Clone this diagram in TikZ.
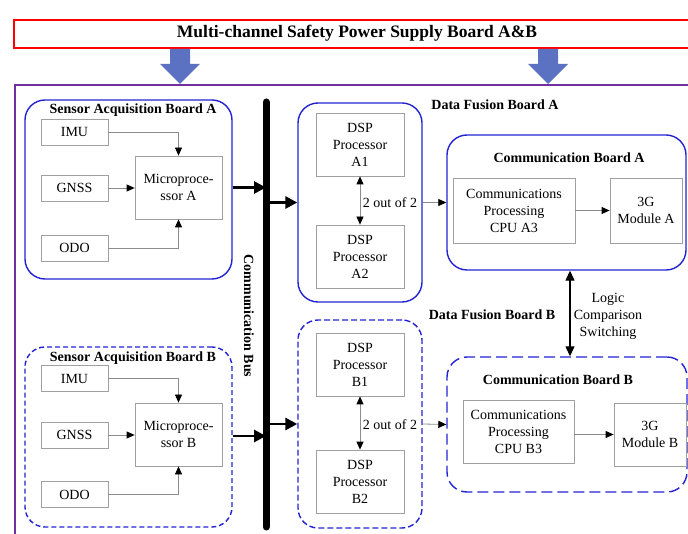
\documentclass[tikz,border=0pt]{standalone}
\usepackage{fontspec}
\setmainfont{Liberation Serif}
\usetikzlibrary{arrows.meta,calc}
\definecolor{frameviolet}{HTML}{7030A0}
\definecolor{boardblue}{HTML}{2323D2}
\definecolor{powerarrow}{HTML}{5B72C2}
\definecolor{boxgray}{HTML}{A0A0A0}
\definecolor{wiregray}{HTML}{8C8C8C}

\begin{document}
\begin{tikzpicture}[x=1pt,y=-1pt,
  txt/.style={font=\fontsize{14}{17}\selectfont, align=center, inner sep=0pt},
  hdr/.style={font=\fontsize{14}{17}\selectfont\bfseries, inner sep=0pt},
  unit/.style={draw=boxgray, line width=0.8pt, fill=white, txt},
  board/.style={draw=boardblue, line width=1.4pt, rounded corners=20pt, inner sep=0pt},
  spare/.style={board, dash pattern=on 5pt off 3pt},
  wire/.style={draw=wiregray, line width=0.8pt, -{Triangle[length=8pt,width=7pt,color=black]}},
  twoway/.style={draw=wiregray, line width=0.8pt, {Triangle[length=8pt,width=7pt,color=black]}-{Triangle[length=8pt,width=7pt,color=black]}},
  feed/.style={draw=black, line width=2.8pt, -{Triangle[length=12pt,width=12pt]}},
]
\useasboundingbox (0,0) rectangle (688,534);
\clip (0,0) rectangle (688,534);

% power supply bar and system frame
\node[draw=red, line width=2pt, minimum width=706pt, minimum height=28pt, inner sep=0pt] (power) at (367,34) {};
\node[font=\fontsize{17.5}{20}\selectfont\bfseries, inner sep=0pt] (powerlabel) at (357,33) {Multi-channel Safety Power Supply Board A\&B};
\draw[frameviolet, line width=2.5pt] (15,85) rectangle (720,560);
\foreach \ax in {180,548}
  \fill[powerarrow] (\ax-10,49) -- (\ax+10,49) -- (\ax+10,64) -- (\ax+20,64) -- (\ax,84)
    -- (\ax-20,64) -- (\ax-10,64) -- cycle;

% communication bus
\coordinate (busT) at (266,102);
\coordinate (busB) at (266,527);
\draw[line width=7pt, line cap=round] (busT) -- (busB);
\node[hdr, rotate=-90] (buslabel) at (249,316) {Communication Bus};

% sensor acquisition board A
\node[board, minimum width=207pt, minimum height=179pt] (sensA) at (128.5,189.5) {};
\node[hdr] (sensAlabel) at (133,110) {Sensor Acquisition Board A};
\node[unit, minimum width=67pt, minimum height=26pt] (imuA) at (74.5,132) {IMU};
\node[unit, minimum width=67pt, minimum height=26pt] (gnssA) at (74.5,188) {GNSS};
\node[unit, minimum width=67pt, minimum height=26pt] (odoA) at (74.5,248) {ODO};
\node[unit, minimum width=87pt, minimum height=63pt] (microA) at (178.5,187.5) {Microproce-\\ssor A};
\draw[wire] (imuA.east) -| (microA.north);
\draw[wire] (gnssA.east) -- (gnssA.east -| microA.west);
\draw[wire] (odoA.east) -| (microA.south);
\draw[feed] (microA.east -| sensA.east) -- (microA.east -| busT);

% sensor acquisition board B
\node[spare, minimum width=207pt, minimum height=180pt] (sensB) at (128.5,437) {};
\node[hdr] (sensBlabel) at (133,358) {Sensor Acquisition Board B};
\node[unit, minimum width=67pt, minimum height=26pt] (imuB) at (74.5,378.5) {IMU};
\node[unit, minimum width=67pt, minimum height=26pt] (gnssB) at (74.5,435) {GNSS};
\node[unit, minimum width=67pt, minimum height=26pt] (odoB) at (74.5,494.5) {ODO};
\node[unit, minimum width=87pt, minimum height=63pt] (microB) at (178.5,434.5) {Microproce-\\ssor B};
\draw[wire] (imuB.east) -| (microB.north);
\draw[wire] (gnssB.east) -- (gnssB.east -| microB.west);
\draw[wire] (odoB.east) -| (microB.south);
\draw[feed] (sensB.east |- 0,436) -- (busT |- 0,436);

% data fusion board A
\node[board, minimum width=124pt, minimum height=199pt] (fusA) at (360,202.5) {};
\node[hdr] (fusAlabel) at (495,105) {Data Fusion Board A};
\node[unit, minimum width=88pt, minimum height=63pt] (dspA1) at (360,144.5) {DSP\\Processor\\A1};
\node[unit, minimum width=88pt, minimum height=63pt] (dspA2) at (360,256.5) {DSP\\Processor\\A2};
\draw[twoway] (dspA1.south) -- (dspA2.north);
\node[txt] (voteA) at (390,203) {2 out of 2};
\draw[feed] (fusA.west -| busT) -- (fusA.west);

% data fusion board B
\node[spare, dash pattern=on 6pt off 3pt, minimum width=124pt, minimum height=208pt] (fusB) at (360,424) {};
\node[hdr] (fusBlabel) at (492,315) {Data Fusion Board B};
\node[unit, minimum width=88pt, minimum height=63pt] (dspB1) at (360,364.5) {DSP\\Processor\\B1};
\node[unit, minimum width=88pt, minimum height=63pt] (dspB2) at (360,481.5) {DSP\\Processor\\B2};
\draw[twoway] (dspB1.south) -- (dspB2.north);
\node[txt] (voteB) at (390,425) {2 out of 2};
\draw[feed] (fusB.west -| busT) -- (fusB.west);

% communication board A
\node[board, minimum width=239pt, minimum height=135pt] (commA) at (566.5,202.5) {};
\node[hdr] (commAlabel) at (569,158) {Communication Board A};
\node[unit, minimum width=122pt, minimum height=65pt] (cpuA) at (514,210.5) {Communications\\Processing\\CPU A3};
\node[unit, minimum width=72pt, minimum height=65pt] (gA) at (646,210.5) {3G\\Module A};
\draw[wire] (cpuA.east) -- (gA.west);
\draw[wire] (fusA.east) -- (commA.west);

% communication board B
\node[spare, dash pattern=on 11pt off 5pt, minimum width=240pt, minimum height=135pt] (commB) at (567,424.5) {};
\node[hdr] (commBlabel) at (558,380) {Communication Board B};
\node[unit, minimum width=111pt, minimum height=63pt] (cpuB) at (518.5,431.5) {Communications\\Processing\\CPU B3};
\node[unit, minimum width=72pt, minimum height=63pt] (gB) at (650,434.5) {3G\\Module B};
\draw[wire] (cpuB.east |- gB.west) -- (gB.west);
\draw[wire] (fusB.east) -- (commB.west);

% cross-check link between the two communication boards
\draw[line width=1.3pt, {Triangle[length=10pt,width=9pt]}-{Triangle[length=10pt,width=9pt]}]
  ([xshift=3.5pt]commA.south) -- ([xshift=3.5pt]commA.south |- commB.north);
\node[txt] (logic) at (608,316) {Logic\\Comparison\\Switching};
\end{tikzpicture}
\end{document}
